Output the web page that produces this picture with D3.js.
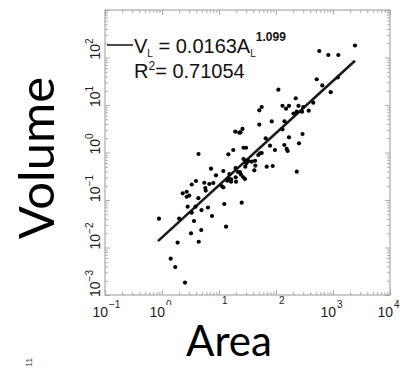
<!DOCTYPE html>
<html>
<head>
<meta charset="utf-8">
<script src="https://cdn.jsdelivr.net/npm/d3@7"></script>
<style>
  body { margin: 0; background: #fff; }
  svg { display: block; }
</style>
</head>
<body>
<svg id="chart" width="405" height="368"></svg>
<script>
const area = [
  0.885, 1.42, 1.71, 2.53, 1.88, 2.0, 2.31, 2.71, 3.01, 2.71,
  3.32, 3.94, 2.82, 3.87, 3.32, 4.34, 4.93, 6.41, 3.64, 7.54,
  3.23, 4.88, 4.41, 13.3, 12.4, 25.0, 5.75, 5.85, 6.76, 7.94,
  5.52, 11.1, 11.9, 14.0, 14.8, 16.3, 19.9, 4.37, 7.24, 8.85,
  11.9, 14.6, 17.8, 15.2, 16.3, 19.6, 19.6, 21.5, 23.3, 24.3,
  26.7, 28.6, 26.9, 29.4, 30.3, 28.9, 32.7, 37.5, 42.9, 41.6,
  43.4, 26.9, 29.8, 48.9, 52.4, 56.1, 68.7, 87.5, 19.3, 22.7,
  25.8, 23.8, 65.9, 78.5, 95.9, 140, 154, 160, 253, 231,
  50.9, 84.1, 141, 130, 169, 292, 50.9, 56.1, 110, 222,
  130, 150, 169, 248, 203, 231, 301, 286, 375, 451,
  518, 649, 912, 1210, 575, 828, 1240, 2430
];
const volume = [
  0.0404, 0.00581, 0.00388, 0.00183, 0.0127, 0.0404, 0.138, 0.149, 0.124, 0.117,
  0.212, 0.251, 0.0723, 0.0723, 0.0541, 0.109, 0.0615, 0.0695, 0.0361, 0.046,
  0.0199, 0.0233, 0.0132, 0.0274, 0.0824, 0.0877, 0.179, 0.158, 0.217, 0.228,
  0.231, 0.197, 0.185, 0.255, 0.281, 0.243, 0.243, 0.929, 0.456, 0.331,
  0.408, 0.916, 1.13, 0.352, 0.273, 0.301, 0.472, 0.388, 0.388, 0.341,
  0.301, 0.277, 0.729, 0.679, 0.593, 0.502, 0.662, 0.64, 0.671, 0.422,
  0.527, 1.26, 1.26, 0.885, 0.962, 0.975, 0.502, 0.52, 2.74, 2.61,
  3.13, 2.66, 1.99, 1.39, 1.13, 1.44, 1.19, 1.08, 1.56, 0.394,
  3.88, 4.5, 4.54, 3.08, 2.09, 2.45, 7.73, 9.08, 21.0, 13.8,
  9.62, 8.36, 9.62, 9.62, 6.62, 7.23, 9.08, 7.23, 7.59, 11.2,
  34.8, 25.8, 18.6, 37.9, 137, 113, 113, 179
];

// power-law fit V = a * A^b
const fitCoef = 0.0163;
const fitExp = 1.099;
const fitR2 = '0.71054';
const fitArea = [0.85, 2430];

const xExponents = [-1, 0, 1, 2, 3, 4];
const yExponents = [-3, -2, -1, 0, 1, 2];

const svg = d3.select('#chart');
const margin = { top: 10, right: 15, bottom: 73, left: 105 };
const width = 405, height = 368;
const boxColor = '#9a9a9a';

const x = d3.scaleLog().domain([1e-1, 1e4]).range([margin.left, width - margin.right]);
const y = d3.scaleLog().domain([1e-3, 1e3]).range([height - margin.bottom, margin.top]);

// minor tick values 2..9 per decade
function minorTicks(lo, hi) {
  const out = [];
  for (let e = lo; e < hi; e++) {
    for (let m = 2; m <= 9; m++) out.push(m * Math.pow(10, e));
  }
  return out;
}
const xMajor = d3.range(-1, 5).map(e => Math.pow(10, e));
const yMajor = d3.range(-3, 4).map(e => Math.pow(10, e));

// frame ticks on all four sides, pointing inward
function frameAxis(axisFn, scale, values, size, transform) {
  const g = svg.append('g')
    .attr('transform', transform)
    .call(axisFn(scale).tickValues(values).tickSize(size).tickFormat(''));
  g.select('.domain').remove();
  g.selectAll('line').attr('stroke', boxColor).attr('stroke-width', 0.8);
}
const bottomY = height - margin.bottom, rightX = width - margin.right;
frameAxis(d3.axisBottom, x, xMajor, -5, `translate(0,${bottomY})`);
frameAxis(d3.axisBottom, x, minorTicks(-1, 4), -3, `translate(0,${bottomY})`);
frameAxis(d3.axisTop, x, xMajor, -5, `translate(0,${margin.top})`);
frameAxis(d3.axisTop, x, minorTicks(-1, 4), -3, `translate(0,${margin.top})`);
frameAxis(d3.axisLeft, y, yMajor, -5, `translate(${margin.left},0)`);
frameAxis(d3.axisLeft, y, minorTicks(-3, 3), -3, `translate(${margin.left},0)`);
frameAxis(d3.axisRight, y, yMajor, -5, `translate(${rightX},0)`);
frameAxis(d3.axisRight, y, minorTicks(-3, 3), -3, `translate(${rightX},0)`);

svg.append('rect')
  .attr('x', margin.left).attr('y', margin.top)
  .attr('width', rightX - margin.left).attr('height', bottomY - margin.top)
  .attr('fill', 'none').attr('stroke', boxColor).attr('stroke-width', 1);

// x tick labels: 10^n, the base is missing on 10^1 and 10^2 in the original
const tickFont = 'Liberation Sans, Arial, sans-serif';
svg.append('clipPath').attr('id', 'cutZero')
  .append('rect').attr('x', 150).attr('y', 290).attr('width', 30).attr('height', 15);
xExponents.forEach(e => {
  const px = x(Math.pow(10, e));
  const hasBase = e !== 1 && e !== 2;
  if (hasBase) {
    svg.append('text')
      .attr('x', px + 3).attr('y', 317)
      .attr('text-anchor', 'end')
      .style('font-family', tickFont).style('font-size', '14px').attr('fill', '#222')
      .text('10');
  }
  svg.append('text')
    .attr('x', px + (hasBase ? 4 : 3)).attr('y', hasBase ? 308 : 304)
    .attr('clip-path', e === 0 ? 'url(#cutZero)' : null)
    .style('font-family', tickFont).style('font-size', '10px').attr('fill', '#222')
    .text(String(e).replace('-', '\u2212'));
});

// y tick labels, rotated
yExponents.forEach(e => {
  const t = svg.append('text')
    .attr('transform', `translate(100,${y(Math.pow(10, e)) + 2}) rotate(-90)`)
    .style('font-family', tickFont).style('font-size', '14px').attr('fill', '#222');
  t.append('tspan').text('10');
  t.append('tspan').attr('dy', -7).style('font-size', '10px').text(String(e).replace('-', '\u2212'));
});

// fitted line
const fit = d3.line()
  .x(d => x(d))
  .y(d => y(fitCoef * Math.pow(d, fitExp)));
svg.append('path')
  .attr('d', fit(fitArea))
  .attr('fill', 'none')
  .attr('stroke', '#1a1a1a')
  .attr('stroke-width', 2.6);

// points
svg.selectAll('.pt')
  .data(area.map((a, i) => [a, volume[i]]))
  .enter()
  .append('circle')
  .attr('class', 'pt')
  .attr('cx', d => x(d[0]))
  .attr('cy', d => y(d[1]))
  .attr('r', 2.1)
  .attr('fill', '#000');

// legend with equation
svg.append('line')
  .attr('x1', 107).attr('x2', 133).attr('y1', 45).attr('y2', 45)
  .attr('stroke', '#111').attr('stroke-width', 1.5);

const eq = svg.append('text')
  .attr('x', 134).attr('y', 53)
  .style('font-family', tickFont).style('font-size', '20px').attr('fill', '#111');
eq.append('tspan').text('V');
eq.append('tspan').attr('dy', 4).style('font-size', '10px').text('L');
eq.append('tspan').attr('dy', -4).text(` = ${fitCoef}A`);
eq.append('tspan').attr('dy', 4).style('font-size', '10px').text('L');
eq.append('tspan').attr('dy', -16).style('font-size', '12px').style('font-weight', 'bold').text(fitExp);

const r2 = svg.append('text')
  .attr('x', 134).attr('y', 78)
  .style('font-family', tickFont).style('font-size', '20px').attr('fill', '#111');
r2.append('tspan').text('R');
r2.append('tspan').attr('dy', -8).style('font-size', '12px').text('2');
r2.append('tspan').attr('dy', 8).text(`= ${fitR2}`);

// axis titles
svg.append('text')
  .attr('x', 229).attr('y', 356)
  .attr('text-anchor', 'middle')
  .style('font-family', 'Lato, Carlito, sans-serif').style('font-size', '42px').attr('fill', '#000')
  .text('Area');

svg.append('text')
  .attr('transform', 'translate(54,158) rotate(-90)')
  .attr('text-anchor', 'middle')
  .style('font-family', 'Lato, Carlito, sans-serif').style('font-size', '49px').attr('fill', '#000')
  .text('Volume');

// stray mark left in the corner of the source image
svg.append('text')
  .attr('transform', 'translate(32,367) rotate(-90)')
  .style('font-family', tickFont).style('font-size', '9px').attr('fill', '#555')
  .text('11');
</script>
</body>
</html>
